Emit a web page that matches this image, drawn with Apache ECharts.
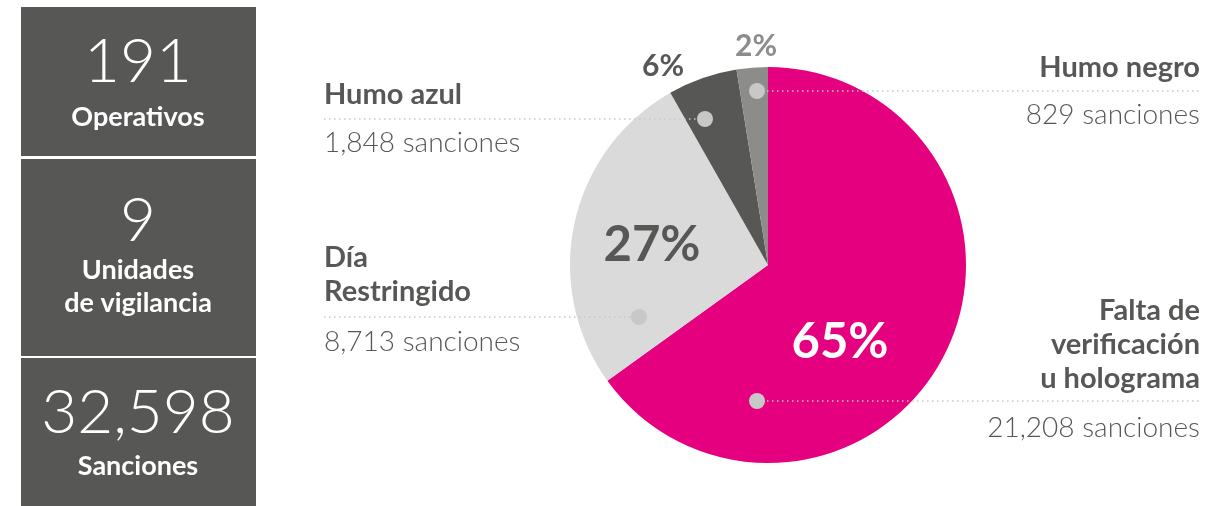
<!DOCTYPE html>
<html><head><meta charset="utf-8">
<script src="https://cdn.jsdelivr.net/npm/echarts@6/dist/echarts.min.js"></script>
<style>html,body{margin:0;padding:0;background:#fff}#c{width:1209px;height:506px}</style>
</head><body><div id="c"></div>
<script>
// ---- data ----
const categories = ['Falta de\nverificación\nu holograma', 'Día\nRestringido', 'Humo azul', 'Humo negro'];
const sanciones = [21208, 8713, 1848, 829];
const statValues = ['191', '9', '32,598'];
const statLabels = ['Operativos', 'Unidades\nde vigilancia', 'Sanciones'];
const countSuffix = ' sanciones';

// ---- styles / layout ----
const sliceColors = ['#E4007F', '#DADADA', '#575756', '#8C8C8B'];
const pctColors = ['#FFFFFF', '#575756', '#575756', '#8C8C8B'];
const pctSizes = [49, 49, 30, 30];
const pctPos = [[840, 342], [652, 245], [663, 66], [756, 46]];
const FONT = 'Lato, "Open Sans", sans-serif';
const TXT = '#575756';

// annotation layout per category (same order as categories)
const ann = [
  {side: 'right', nameY: 345, lineY: 401, countY: 428, dotX: 757},
  {side: 'left', nameY: 275, lineY: 317, countY: 342, dotX: 639},
  {side: 'left', nameY: 95, lineY: 119, countY: 143, dotX: 705},
  {side: 'right', nameY: 68, lineY: 91, countY: 115, dotX: 757}
];
const LEFT_X = 324, RIGHT_X = 1200;

const fmt = n => n.toLocaleString('en-US');

const graphics = [];
// left stat boxes
const boxes = [[21, 7, 235, 149], [21, 159, 235, 197], [21, 358, 235, 148]];
const numY = [62, 221, 413];
const labY = [117, 287, 466];
boxes.forEach((b, i) => {
  graphics.push({type: 'rect', shape: {x: b[0], y: b[1], width: b[2], height: b[3]}, style: {fill: '#575756'}, silent: true});
  graphics.push({type: 'text', x: 138, y: numY[i], style: {text: statValues[i], fill: '#fff', font: '300 62px ' + FONT, align: 'center', verticalAlign: 'middle'}});
  graphics.push({type: 'text', x: 138, y: labY[i], style: {text: statLabels[i], fill: '#fff', font: 'bold 27px ' + FONT, align: 'center', verticalAlign: 'middle', lineHeight: 33}});
});

// annotations
categories.forEach((name, i) => {
  const a = ann[i];
  const right = a.side === 'right';
  const tx = right ? RIGHT_X : LEFT_X;
  graphics.push({type: 'line', z: 10, shape: right ? {x1: a.dotX, y1: a.lineY, x2: RIGHT_X, y2: a.lineY} : {x1: LEFT_X, y1: a.lineY, x2: a.dotX, y2: a.lineY},
    style: {stroke: '#C8C8C8', lineWidth: 1.5, lineDash: [1.5, 3.5]}});
  graphics.push({type: 'circle', z: 11, shape: {cx: a.dotX, cy: a.lineY, r: 8}, style: {fill: '#C8C8C8'}});
  graphics.push({type: 'text', x: tx, y: a.nameY, style: {text: name, fill: TXT, font: 'bold 29px ' + FONT, align: right ? 'right' : 'left', verticalAlign: 'middle', lineHeight: 34}});
  graphics.push({type: 'text', x: tx, y: a.countY, style: {text: fmt(sanciones[i]) + countSuffix, fill: TXT, font: '300 28px ' + FONT, align: right ? 'right' : 'left', verticalAlign: 'middle'}});
});

const chart = echarts.init(document.getElementById('c'));
chart.setOption({
  animation: false,
  series: [{
    type: 'pie',
    center: [768, 265],
    radius: 198,
    startAngle: 90,
    clockwise: true,
    percentPrecision: 0,
    silent: true,
    z: 2,
    labelLine: {show: false},
    label: {show: true, position: 'outside', formatter: '{d}%', fontFamily: FONT, fontWeight: 'bold'},
    labelLayout: p => ({x: pctPos[p.dataIndex][0], y: pctPos[p.dataIndex][1], align: 'center', verticalAlign: 'middle'}),
    data: categories.map((n, i) => ({
      name: n, value: sanciones[i],
      itemStyle: {color: sliceColors[i]},
      label: {color: pctColors[i], fontSize: pctSizes[i]}
    }))
  }],
  graphic: graphics
});
</script></body></html>
